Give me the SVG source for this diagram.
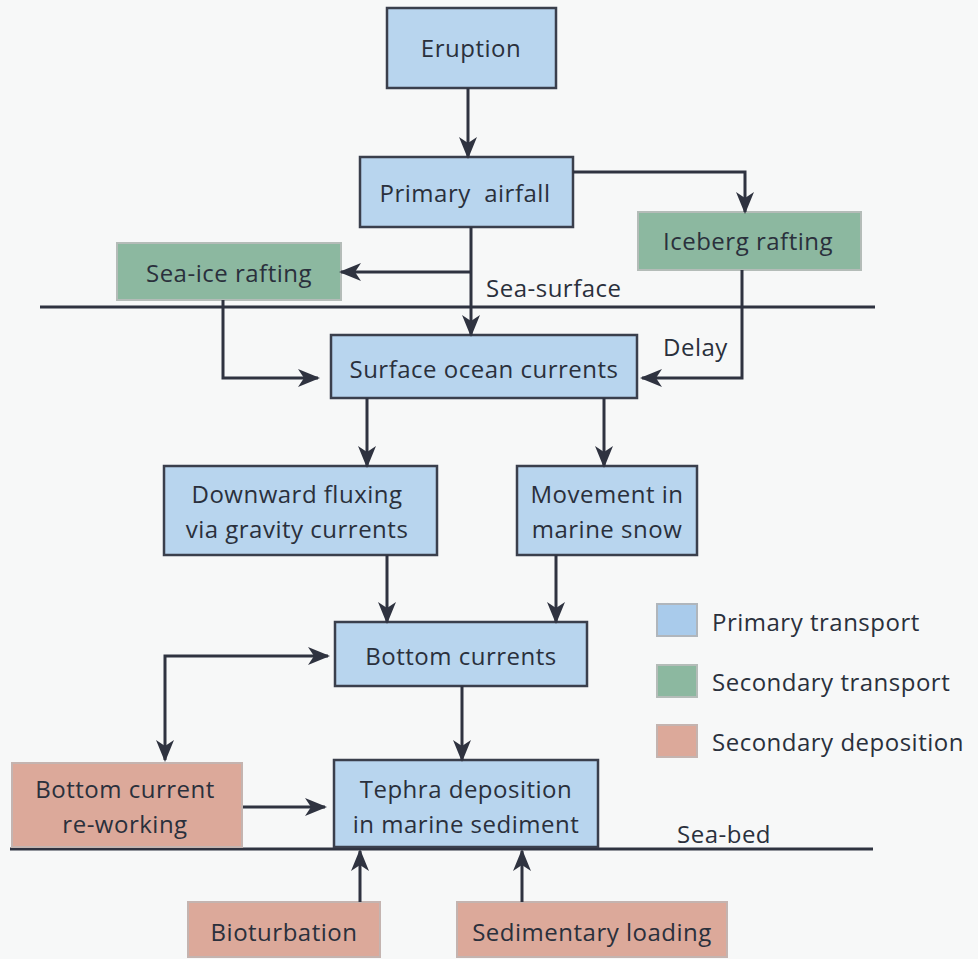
<svg xmlns="http://www.w3.org/2000/svg" width="978" height="959" viewBox="0 0 978 959">
<style>
text{font-family:"Open Sans","Liberation Sans",sans-serif;font-size:24px;letter-spacing:0.5px;fill:#2a303c;text-anchor:middle}
.lg{text-anchor:start}
.p rect{fill:#b8d5ee;stroke:#3a3f4c;stroke-width:2.5}
.s rect{fill:#8cb8a0;stroke:#b4bcb8;stroke-width:2}
.d rect{fill:#dca99a;stroke:#c4b4b0;stroke-width:2}
.c path{fill:none;stroke:#2f3340;stroke-width:3}
.sea{stroke:#2f3340;stroke-width:3}
</style>
<defs>
<marker id="ah" markerUnits="userSpaceOnUse" markerWidth="22" markerHeight="20" refX="20" refY="10" orient="auto-start-reverse" viewBox="0 0 22 20">
<path d="M0,1 L22,10 L0,19 L6,10 z" fill="#2f3340"/>
</marker>
</defs>
<rect width="978" height="959" fill="#f7f8f8"/>
<line class="sea" x1="40" y1="307" x2="875" y2="307"/>
<line class="sea" x1="10" y1="849" x2="873" y2="849"/>
<text class="lg" x="486" y="297">Sea-surface</text>
<text class="lg" x="663" y="356">Delay</text>
<text class="lg" x="677" y="843">Sea-bed</text>
<g id="eruption" class="p"><rect x="387" y="8" width="169" height="80"/><text x="471" y="57">Eruption</text></g>
<g id="primary-airfall" class="p"><rect x="360" y="157" width="213" height="70"/><text x="465" y="202" xml:space="preserve">Primary  airfall</text></g>
<g id="iceberg-rafting" class="s"><rect x="638" y="212" width="223" height="58"/><text x="748" y="250">Iceberg rafting</text></g>
<g id="sea-ice-rafting" class="s"><rect x="117" y="243" width="224" height="57"/><text x="229" y="282">Sea-ice rafting</text></g>
<g id="surface-ocean-currents" class="p"><rect x="331" y="335" width="306" height="63"/><text x="484" y="378">Surface ocean currents</text></g>
<g id="downward-fluxing" class="p"><rect x="164" y="466" width="273" height="89"/><text x="297" y="503">Downward fluxing</text><text x="297" y="538">via gravity currents</text></g>
<g id="marine-snow" class="p"><rect x="517" y="466" width="180" height="89"/><text x="607" y="503">Movement in</text><text x="607" y="538">marine snow</text></g>
<g id="bottom-currents" class="p"><rect x="335" y="622" width="252" height="64"/><text x="461" y="665">Bottom currents</text></g>
<g id="tephra-deposition" class="p"><rect x="334" y="760" width="264" height="87"/><text x="466" y="798">Tephra deposition</text><text x="466" y="833">in marine sediment</text></g>
<g id="bottom-current-reworking" class="d"><rect x="12" y="763" width="230" height="84"/><text x="125" y="798">Bottom current</text><text x="125" y="833">re-working</text></g>
<g id="bioturbation" class="d"><rect x="188" y="902" width="192" height="55"/><text x="284" y="941">Bioturbation</text></g>
<g id="sedimentary-loading" class="d"><rect x="457" y="902" width="270" height="55"/><text x="592" y="941">Sedimentary loading</text></g>
<g id="legend">
<g class="p"><rect x="657" y="604" width="40" height="32" style="fill:#a9cbeb;stroke:#b0b6bc;stroke-width:2"/></g>
<text class="lg" x="712" y="631">Primary transport</text>
<g class="s"><rect x="657" y="665" width="40" height="32"/></g>
<text class="lg" x="712" y="691">Secondary transport</text>
<g class="d"><rect x="657" y="725" width="40" height="32"/></g>
<text class="lg" x="712" y="751">Secondary deposition</text>
</g>
<g id="connectors" class="c">
<path d="M468,88 V157" marker-end="url(#ah)"/>
<path d="M573,172 H745 V212" marker-end="url(#ah)"/>
<path d="M471,227 V335" marker-end="url(#ah)"/>
<path d="M471,272 H341" marker-end="url(#ah)"/>
<path d="M223,300 V378 H318" marker-end="url(#ah)"/>
<path d="M742,270 V378 H642" marker-end="url(#ah)"/>
<path d="M367,398 V466" marker-end="url(#ah)"/>
<path d="M604,398 V466" marker-end="url(#ah)"/>
<path d="M387,555 V622" marker-end="url(#ah)"/>
<path d="M556,555 V622" marker-end="url(#ah)"/>
<path d="M328,656 H165 V760" marker-start="url(#ah)" marker-end="url(#ah)"/>
<path d="M462,686 V760" marker-end="url(#ah)"/>
<path d="M243,807 H325" marker-end="url(#ah)"/>
<path d="M360,902 V851" marker-end="url(#ah)"/>
<path d="M522,902 V851" marker-end="url(#ah)"/>
</g>
</svg>
